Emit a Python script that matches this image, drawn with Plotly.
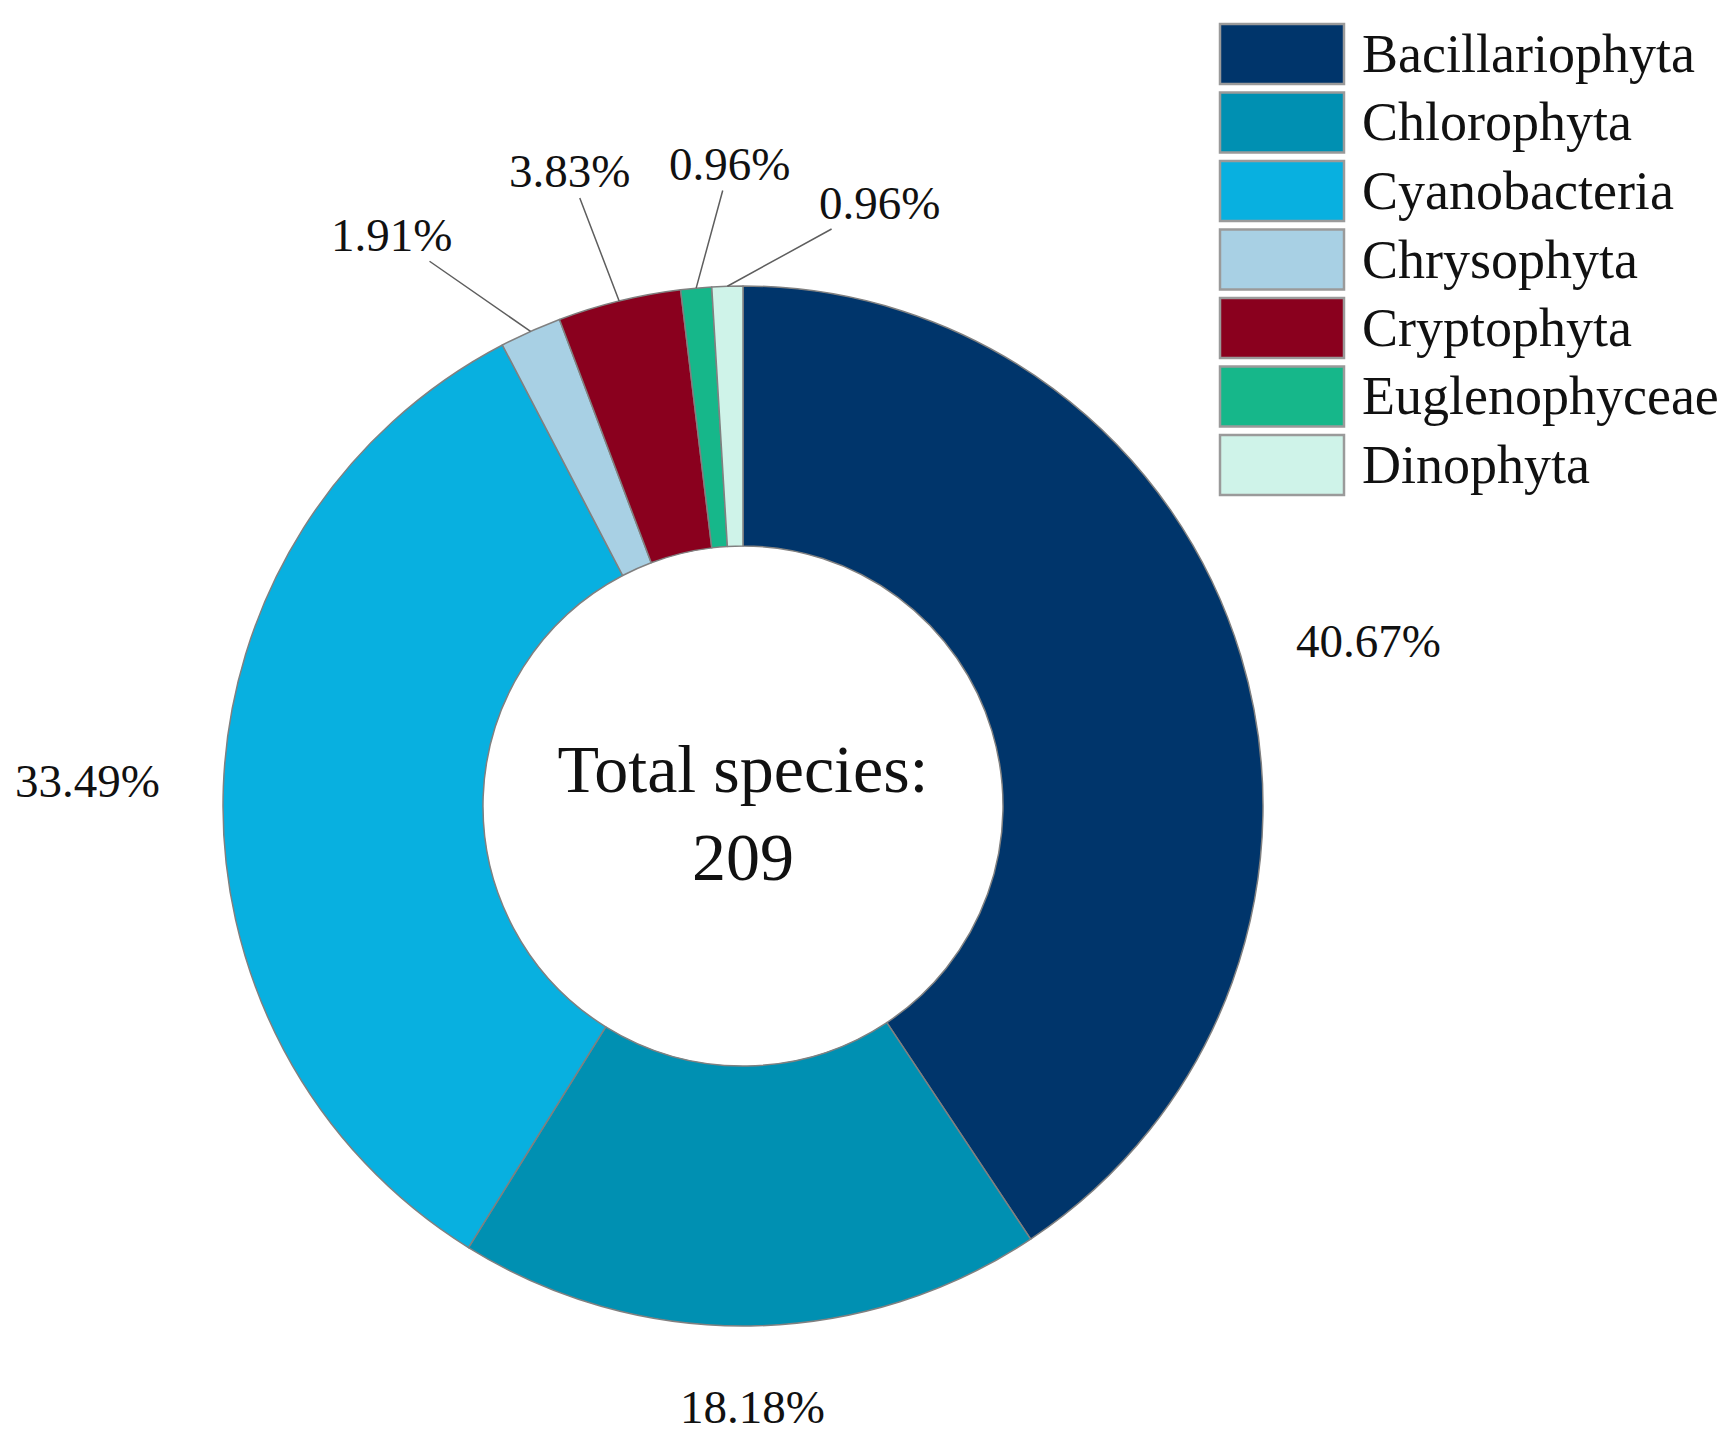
import numpy as np
import plotly.graph_objects as go

# species counts per phylum (total 209)
phyla = ['Bacillariophyta', 'Chlorophyta', 'Cyanobacteria', 'Chrysophyta',
         'Cryptophyta', 'Euglenophyceae', 'Dinophyta']
species = [85, 38, 70, 4, 8, 2, 2]
colors = ['#00356B', '#0090B2', '#08B0E0', '#A8D0E4',
          '#8A001E', '#16B78A', '#CFF3E9']

W, H = 1733, 1444
font = 'Liberation Serif, Times New Roman, serif'

# donut centre and radius in pixels
cx, cy, R = 735, 798, 520

# label placement: angle nudge (deg) and distance from centre (x R)
label_nudge = [2, 0, 0, -7.5, -1.5, 4, 14.5]
label_dist = [1.245, 1.155, 1.262, 1.29, 1.265, 1.235, 1.19]
leader = [False, False, False, True, True, True, True]

fig = go.Figure()

fig.add_trace(go.Pie(
    labels=phyla,
    values=species,
    marker=dict(colors=colors, line=dict(color='#808080', width=1.5)),
    hole=0.5,
    sort=False,
    direction='clockwise',
    rotation=0,
    textinfo='none',
    title=dict(text='Total species:<br>209', position='middle center',
               font=dict(family=font, size=68, color='#111111')),
    domain=dict(x=[(cx - R) / W, (cx + R) / W],
                y=[(H - cy - R) / H, (H - cy + R) / H]),
    showlegend=False,
))

# percentage labels, placed from the slice mid angles
vals = np.array(species, dtype=float)
total = vals.sum()
ends = np.cumsum(vals) / total * 360
mids = ends - vals / total * 180
for v, mid, nudge, dist, lead in zip(vals, mids, label_nudge, label_dist, leader):
    txt = f'{v / total * 100:.2f}%'
    a = np.radians(mid + nudge)
    lx, ly = cx + dist * R * np.sin(a), cy - dist * R * np.cos(a)
    if lead:
        m = np.radians(mid)
        ex, ey = cx + R * np.sin(m), cy - R * np.cos(m)
        fig.add_annotation(x=ex / W, y=1 - ey / H, xref='paper', yref='paper',
                           ax=lx - ex, ay=ly - ey, text=txt, showarrow=True,
                           arrowhead=0, arrowwidth=1.5, arrowcolor='#5E5E5E',
                           standoff=0, borderpad=0,
                           font=dict(family=font, size=47, color='#111111'))
    else:
        fig.add_annotation(x=lx / W, y=1 - ly / H, xref='paper', yref='paper',
                           text=txt, showarrow=False,
                           xanchor='center', yanchor='middle',
                           font=dict(family=font, size=47, color='#111111'))

# legend drawn as big swatches like the original
sw_left, sw_right, sw_top, sw_h, pitch = 1212, 1336, 16, 60, 68.5
for i, (name, col) in enumerate(zip(phyla, colors)):
    top = sw_top + i * pitch
    fig.add_shape(type='rect', xref='paper', yref='paper',
                  x0=sw_left / W, x1=sw_right / W,
                  y0=1 - top / H, y1=1 - (top + sw_h) / H,
                  fillcolor=col, line=dict(color='#9A9A9A', width=2.5))
    fig.add_annotation(x=1352 / W, y=1 - (top + sw_h / 2) / H,
                       xref='paper', yref='paper', xanchor='left', yanchor='middle',
                       text=name, showarrow=False,
                       font=dict(family=font, size=54, color='#111111'))

fig.update_layout(
    width=W, height=H,
    margin=dict(l=0, r=0, t=0, b=0),
    paper_bgcolor='white',
    plot_bgcolor='white',
)

fig.write_html('out.html')
